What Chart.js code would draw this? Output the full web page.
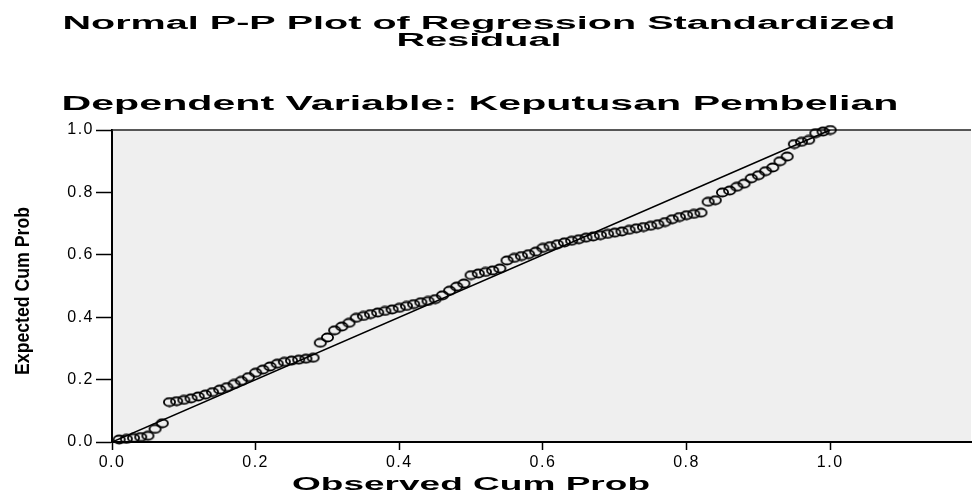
<!DOCTYPE html>
<html><head><meta charset="utf-8">
<script src="https://cdn.jsdelivr.net/npm/chart.js@4"></script>
<style>html,body{margin:0;padding:0;background:#fff;}canvas{display:block;}</style>
</head><body>
<canvas id="c" width="977" height="496"></canvas>
<script>
const titleLines = ['Normal P-P Plot of Regression Standardized', 'Residual'];
const subtitleText = 'Dependent Variable: Keputusan Pembelian';
const xAxisTitle = 'Observed Cum Prob';
const yAxisTitle = 'Expected Cum Prob';
const tickValues = [0, 0.2, 0.4, 0.6, 0.8, 1.0];
const tickLabels = ['0.0', '0.2', '0.4', '0.6', '0.8', '1.0'];

const observedCumProb = [
 0.01,0.02,0.03,0.04,0.05,0.06,0.07,0.08,0.09,0.10,
 0.11,0.12,0.13,0.14,0.15,0.16,0.17,0.18,0.19,0.20,
 0.21,0.22,0.23,0.24,0.25,0.26,0.27,0.28,0.29,0.30,
 0.31,0.32,0.33,0.34,0.35,0.36,0.37,0.38,0.39,0.40,
 0.41,0.42,0.43,0.44,0.45,0.46,0.47,0.48,0.49,0.50,
 0.51,0.52,0.53,0.54,0.55,0.56,0.57,0.58,0.59,0.60,
 0.61,0.62,0.63,0.64,0.65,0.66,0.67,0.68,0.69,0.70,
 0.71,0.72,0.73,0.74,0.75,0.76,0.77,0.78,0.79,0.80,
 0.81,0.82,0.83,0.84,0.85,0.86,0.87,0.88,0.89,0.90,
 0.91,0.92,0.93,0.94,0.95,0.96,0.97,0.98,0.99,1.00
];
const expectedCumProb = [
 0.008,0.010,0.013,0.016,0.020,0.042,0.060,0.128,0.131,0.135,
 0.140,0.146,0.152,0.160,0.168,0.176,0.186,0.196,0.208,0.222,
 0.232,0.242,0.251,0.257,0.261,0.264,0.267,0.270,0.318,0.335,
 0.358,0.370,0.382,0.398,0.404,0.410,0.415,0.420,0.425,0.430,
 0.436,0.442,0.448,0.452,0.458,0.470,0.485,0.498,0.508,0.535,
 0.540,0.545,0.550,0.556,0.582,0.590,0.596,0.602,0.610,0.622,
 0.628,0.634,0.640,0.645,0.650,0.655,0.659,0.663,0.667,0.671,
 0.675,0.680,0.685,0.689,0.693,0.698,0.705,0.714,0.721,0.727,
 0.731,0.735,0.770,0.775,0.800,0.806,0.818,0.828,0.845,0.855,
 0.868,0.880,0.900,0.915,0.955,0.962,0.968,0.990,0.995,1.000
];
const diagonalX = [0, 1];
const diagonalY = [0, 1];

function ellipseMarker() {
  const c = document.createElement('canvas');
  c.width = 15; c.height = 11;
  const g = c.getContext('2d');
  g.strokeStyle = '#000'; g.lineWidth = 1.8;
  g.beginPath(); g.ellipse(7.5, 5.5, 5.6, 4.0, 0, 0, Math.PI * 2); g.stroke();
  return c;
}

const FONT = '"Liberation Sans", Arial, sans-serif';

function stretchText(ctx, text, cx, base, font, width, scaleOverride) {
  ctx.save();
  ctx.letterSpacing = '0px';
  ctx.font = font;
  const s = scaleOverride || width / ctx.measureText(text).width;
  ctx.translate(cx, base);
  ctx.scale(s, 1);
  ctx.textAlign = 'center'; ctx.textBaseline = 'alphabetic'; ctx.fillStyle = '#000';
  ctx.fillText(text, 0, 0);
  ctx.restore();
  return s;
}

const decor = {
  id: 'decor',
  beforeDraw(chart) {
    const { ctx, chartArea: a } = chart;
    ctx.save();
    ctx.fillStyle = '#fff'; ctx.fillRect(0, 0, chart.width, chart.height);
    ctx.fillStyle = '#efefef'; ctx.fillRect(a.left, a.top, a.right - a.left, a.bottom - a.top);
    ctx.restore();
    ctx.letterSpacing = '1.5px';
  },
  beforeDatasetsDraw(chart) {
    const { ctx, chartArea: a } = chart;
    ctx.letterSpacing = '0px';
    ctx.save();
    ctx.strokeStyle = '#222'; ctx.lineWidth = 1.5;
    ctx.beginPath(); ctx.moveTo(a.left, a.top); ctx.lineTo(a.right, a.top); ctx.stroke();
    ctx.restore();
  },
  afterDraw(chart) {
    const ctx = chart.ctx;
    const f1 = 'bold 18px ' + FONT;
    const s = stretchText(ctx, titleLines[0], 479, 29, f1, 833);
    stretchText(ctx, titleLines[1], 479, 46, f1, 0, s);
    stretchText(ctx, subtitleText, 480, 110, 'bold 20px ' + FONT, 837);
    stretchText(ctx, xAxisTitle, 471, 490, 'bold 18px ' + FONT, 358);
    ctx.save();
    ctx.letterSpacing = '0px';
    ctx.font = 'bold 21px ' + FONT;
    const w = ctx.measureText(yAxisTitle).width;
    ctx.translate(29, 291);
    ctx.rotate(-Math.PI / 2);
    ctx.scale(168 / w, 1);
    ctx.textAlign = 'center'; ctx.textBaseline = 'alphabetic'; ctx.fillStyle = '#000';
    ctx.fillText(yAxisTitle, 0, 0);
    ctx.restore();
  }
};

const points = observedCumProb.map((x, i) => ({ x: x, y: expectedCumProb[i] }));
const diag = diagonalX.map((x, i) => ({ x: x, y: diagonalY[i] }));
const tickLabelFor = (v) => tickLabels[tickValues.findIndex(t => Math.abs(t - v) < 1e-9)];

new Chart(document.getElementById('c'), {
  type: 'scatter',
  data: {
    datasets: [
      { type: 'line', data: diag, borderColor: '#000', borderWidth: 1.6, pointRadius: 0, fill: false, order: 2 },
      { data: points, pointStyle: ellipseMarker(), pointRadius: 5, borderColor: '#000', backgroundColor: 'rgba(0,0,0,0)', clip: false, order: 1 }
    ]
  },
  options: {
    responsive: false, animation: false, devicePixelRatio: 1,
    layout: { padding: { top: 130, left: 0, right: 0, bottom: 0 } },
    plugins: { legend: { display: false }, tooltip: { enabled: false }, title: { display: false } },
    scales: {
      x: {
        type: 'linear', min: 0, max: 1.196,
        afterFit(s) { s.height = 54; },
        afterBuildTicks(s) { s.ticks = tickValues.map(v => ({ value: v })); },
        grid: { drawOnChartArea: false, drawTicks: true, tickLength: 8, tickColor: '#000', tickWidth: 1.5 },
        border: { display: true, color: '#000', width: 2 },
        ticks: { padding: 3, color: '#000', font: { family: FONT, size: 16 }, maxRotation: 0, callback: tickLabelFor }
      },
      y: {
        type: 'linear', min: 0, max: 1,
        afterFit(s) { s.width = 112; },
        afterBuildTicks(s) { s.ticks = tickValues.map(v => ({ value: v })); },
        grid: { drawOnChartArea: false, drawTicks: true, tickLength: 16, tickColor: '#000', tickWidth: 1.5 },
        border: { display: true, color: '#000', width: 2 },
        ticks: { padding: 2, color: '#000', font: { family: FONT, size: 16 }, callback: tickLabelFor }
      }
    }
  },
  plugins: [decor]
});
</script>
</body></html>
